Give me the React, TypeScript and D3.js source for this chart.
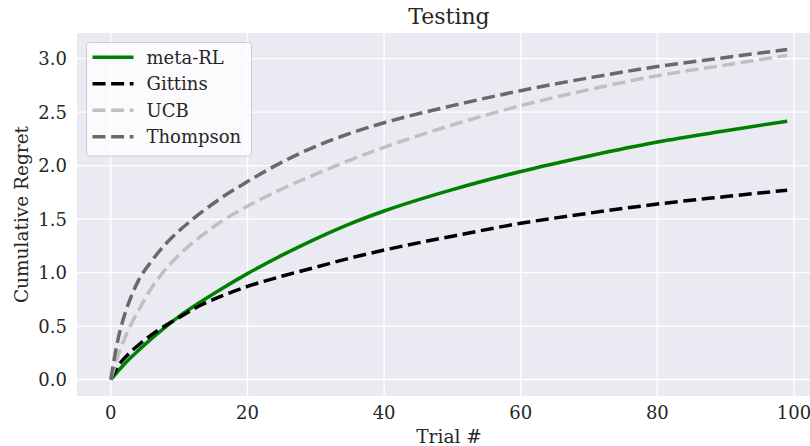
import React, { useEffect, useRef } from "react";
import * as d3 from "d3";

const trials = [0, 1, 2, 3, 4, 6, 8, 10, 13, 16, 20, 25, 30, 35, 40, 50, 60, 70, 80, 90, 99];
const metaRL = [0, 0.075, 0.145, 0.21, 0.27, 0.385, 0.49, 0.59, 0.72, 0.84, 0.99, 1.16, 1.315, 1.455, 1.575, 1.775, 1.945, 2.09, 2.22, 2.325, 2.415];
const gittins = [0, 0.12, 0.2, 0.265, 0.32, 0.42, 0.505, 0.58, 0.69, 0.775, 0.87, 0.965, 1.05, 1.135, 1.21, 1.34, 1.46, 1.555, 1.64, 1.71, 1.77];
const ucb = [0, 0.21, 0.38, 0.52, 0.64, 0.86, 1.03, 1.165, 1.33, 1.47, 1.62, 1.78, 1.92, 2.05, 2.17, 2.38, 2.56, 2.71, 2.84, 2.94, 3.03];
const thompson = [0, 0.36, 0.6, 0.78, 0.92, 1.11, 1.265, 1.39, 1.55, 1.69, 1.85, 2.03, 2.18, 2.3, 2.4, 2.56, 2.7, 2.82, 2.925, 3.01, 3.085];

const seriesNames = ["meta-RL", "Gittins", "UCB", "Thompson"];
const xTicks = [0, 20, 40, 60, 80, 100];
const yTicks = [0, 0.5, 1, 1.5, 2, 2.5, 3];

export default function App() {
  const ref = useRef<SVGSVGElement>(null);

  useEffect(() => {
    const svg = d3.select(ref.current);
    svg.selectAll("*").remove();
    const width = 810, height = 446;
    const left = 77, right = 821, top = 33, bottom = 396;
    const font = "DejaVu Serif";
    const ink = "#262626";

    const x = d3.scaleLinear().domain([-4.95, 103.95]).range([left, right]);
    const y = d3.scaleLinear().domain([-0.154, 3.239]).range([bottom, top]);

    svg.append("rect").attr("width", width).attr("height", height).attr("fill", "#fff");
    svg.append("rect")
      .attr("x", left).attr("y", top)
      .attr("width", right - left).attr("height", bottom - top)
      .attr("fill", "#EAEAF2");

    // grid
    const g = svg.append("g");
    xTicks.forEach(t => {
      g.append("line").attr("x1", x(t)).attr("x2", x(t)).attr("y1", top).attr("y2", bottom)
        .attr("stroke", "#fff").attr("stroke-width", 1.3);
    });
    yTicks.forEach(t => {
      g.append("line").attr("x1", left).attr("x2", right).attr("y1", y(t)).attr("y2", y(t))
        .attr("stroke", "#fff").attr("stroke-width", 1.3);
    });

    // tick labels
    xTicks.forEach(t => {
      svg.append("text").attr("x", x(t)).attr("y", 419)
        .attr("text-anchor", "middle").attr("font-family", font).attr("font-size", 18)
        .attr("fill", ink).text(d3.format("d")(t));
    });
    yTicks.forEach(t => {
      svg.append("text").attr("x", 67).attr("y", y(t)).attr("dy", "0.36em")
        .attr("text-anchor", "end").attr("font-family", font).attr("font-size", 18)
        .attr("fill", ink).text(d3.format(".1f")(t));
    });

    // lines
    const clip = svg.append("clipPath").attr("id", "clip");
    clip.append("rect").attr("x", left).attr("y", top).attr("width", right - left).attr("height", bottom - top);

    const series = [
      { name: seriesNames[0], vals: metaRL, color: "#008000", dash: null },
      { name: seriesNames[1], vals: gittins, color: "#000000", dash: "13,5.6" },
      { name: seriesNames[2], vals: ucb, color: "#c0c0c0", dash: "13,5.6" },
      { name: seriesNames[3], vals: thompson, color: "#696969", dash: "13,5.6" },
    ];

    const line = d3.line<number>()
      .x((_, i) => x(trials[i]))
      .y(d => y(d))
      .curve(d3.curveMonotoneX);

    const lg = svg.append("g").attr("clip-path", "url(#clip)");
    series.forEach(s => {
      lg.append("path").attr("d", line(s.vals))
        .attr("fill", "none").attr("stroke", s.color).attr("stroke-width", 3.5)
        .attr("stroke-dasharray", s.dash);
    });

    // legend
    const leg = svg.append("g");
    leg.append("rect").attr("x", 86.5).attr("y", 42.5).attr("width", 165).attr("height", 113.5)
      .attr("rx", 3).attr("fill", "#fff").attr("fill-opacity", 0.8)
      .attr("stroke", "#cccccc").attr("stroke-width", 1);
    series.forEach((s, i) => {
      const yy = 57.3 + i * 26.5;
      leg.append("line").attr("x1", 92.5).attr("x2", 133.5).attr("y1", yy).attr("y2", yy)
        .attr("stroke", s.color).attr("stroke-width", 3.5).attr("stroke-dasharray", s.dash);
      leg.append("text").attr("x", 146.5).attr("y", yy).attr("dy", "0.36em")
        .attr("font-family", font).attr("font-size", 18).attr("fill", ink).text(s.name);
    });

    // titles
    svg.append("text").attr("x", (left + right) / 2).attr("y", 23.5)
      .attr("text-anchor", "middle").attr("font-family", font).attr("font-size", 22)
      .attr("fill", ink).text("Testing");
    svg.append("text").attr("x", (left + right) / 2).attr("y", 443)
      .attr("text-anchor", "middle").attr("font-family", font).attr("font-size", 18.5)
      .attr("fill", ink).text("Trial #");
    svg.append("text")
      .attr("transform", `translate(28,${(top + bottom) / 2}) rotate(-90)`)
      .attr("text-anchor", "middle").attr("font-family", font).attr("font-size", 18.5)
      .attr("fill", ink).text("Cumulative Regret");
  }, []);

  return (
    <svg ref={ref} width={810} height={446}
      style={{ position: "absolute", left: 0, top: 0, display: "block" }} />
  );
}
